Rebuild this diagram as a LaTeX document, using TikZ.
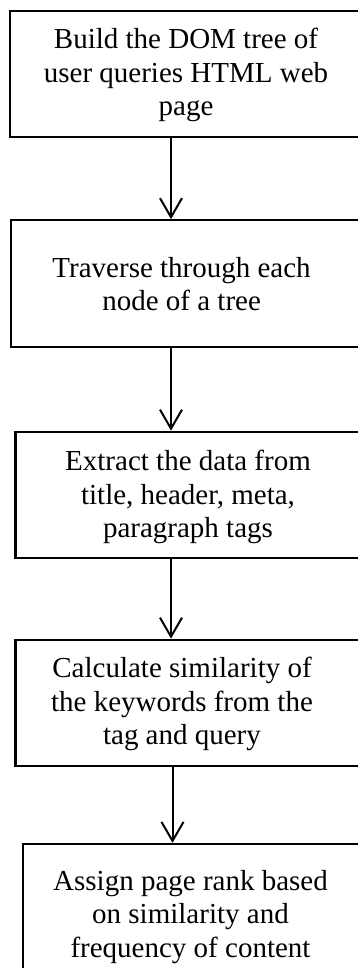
\documentclass[tikz,border=0pt]{standalone}
\usepackage{fontspec}
\setmainfont{Liberation Serif}
\usetikzlibrary{arrows.meta}

\begin{document}
\begin{tikzpicture}[x=1pt,y=-1pt,
  box node/.style={rectangle,draw,line width=2.2pt,align=left,inner sep=0pt,
    font=\fontsize{29}{33.5}\selectfont,minimum height=126.5pt,anchor=west},
  flow/.style={line width=2pt,-{Straight Barb[length=19pt,width=22pt,line width=2pt]}}]

  \useasboundingbox (0,0) rectangle (358,968);
  \clip (0,0) rectangle (358,968);

  % boxes run past the right edge, text is placed on its own
  \node[box node,minimum width=380pt] (0) at (9,74){};
  \node[box node,minimum width=380pt] (1) at (10,283.5){};
  \node[box node,minimum width=380pt] (2) at (14.3,495){};
  \node[box node,minimum width=380pt] (3) at (14.3,703){};
  \node[box node,minimum width=380pt,minimum height=146pt] (4) at (21.7,917){};

  \node[align=center,font=\fontsize{29}{33.5}\selectfont] (t0) at (186,75){Build the DOM tree of\\user queries HTML web\\page};
  \node[align=center,font=\fontsize{29}{33.5}\selectfont] (t1) at (181.6,284){Traverse through each\\node of a tree};
  \node[align=center,font=\fontsize{29}{33.5}\selectfont] (t2) at (188,497){Extract the data from\\title, header, meta,\\paragraph tags};
  \node[align=center,font=\fontsize{29}{33.5}\selectfont] (t3) at (182,704){Calculate similarity of\\the keywords from the\\tag and query};
  \node[align=center,font=\fontsize{29}{33.5}\selectfont] (t4) at (190.5,917){Assign page rank based\\on similarity and\\frequency of content};

  \coordinate (a) at (171,0);
  \coordinate (b) at (172.5,0);

  \draw[flow] (0.south -| a) -- (1.north -| a);
  \draw[flow] (1.south -| a) -- (2.north -| a);
  \draw[flow] (2.south -| a) -- (3.north -| a);
  \draw[flow] (3.south -| b) -- (4.north -| b);
\end{tikzpicture}
\end{document}
